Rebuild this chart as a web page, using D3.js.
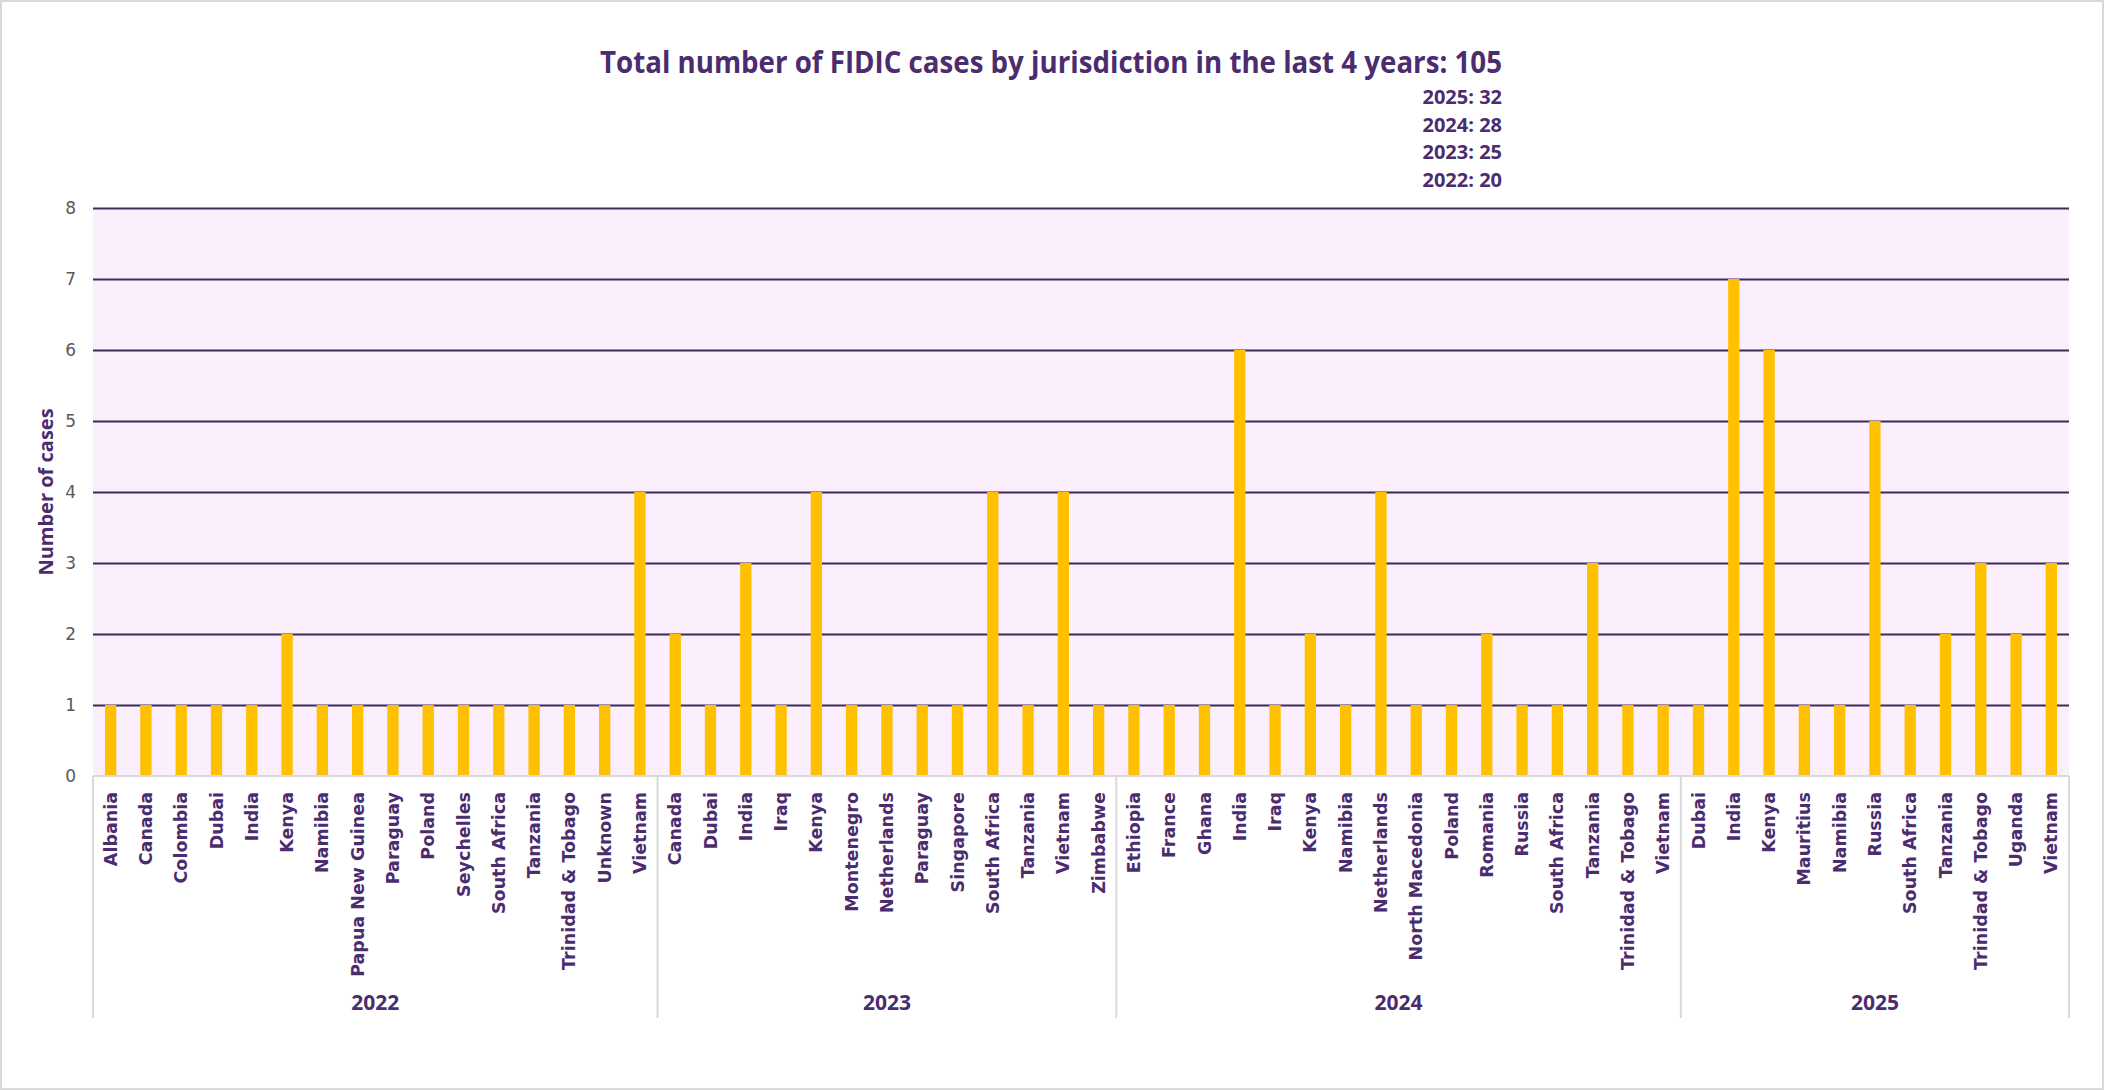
<!DOCTYPE html>
<html>
<head>
  <title>FIDIC cases by jurisdiction</title>
  <script src="https://d3js.org/d3.v7.min.js"></script>
  <style>
    body { margin: 0; background: #fff; }
  </style>
</head>
<body>
  <div id="chart"></div>

  <script>
    // Data
    const years = ['2022', '2023', '2024', '2025'];

    const countries2022 = ['Albania', 'Canada', 'Colombia', 'Dubai', 'India', 'Kenya', 'Namibia',
      'Papua New Guinea', 'Paraguay', 'Poland', 'Seychelles', 'South Africa', 'Tanzania',
      'Trinidad & Tobago', 'Unknown', 'Vietnam'];
    const cases2022 = [1, 1, 1, 1, 1, 2, 1, 1, 1, 1, 1, 1, 1, 1, 1, 4];

    const countries2023 = ['Canada', 'Dubai', 'India', 'Iraq', 'Kenya', 'Montenegro', 'Netherlands',
      'Paraguay', 'Singapore', 'South Africa', 'Tanzania', 'Vietnam', 'Zimbabwe'];
    const cases2023 = [2, 1, 3, 1, 4, 1, 1, 1, 1, 4, 1, 4, 1];

    const countries2024 = ['Ethiopia', 'France', 'Ghana', 'India', 'Iraq', 'Kenya', 'Namibia',
      'Netherlands', 'North Macedonia', 'Poland', 'Romania', 'Russia', 'South Africa', 'Tanzania',
      'Trinidad & Tobago', 'Vietnam'];
    const cases2024 = [1, 1, 1, 6, 1, 2, 1, 4, 1, 1, 2, 1, 1, 3, 1, 1];

    const countries2025 = ['Dubai', 'India', 'Kenya', 'Mauritius', 'Namibia', 'Russia', 'South Africa',
      'Tanzania', 'Trinidad & Tobago', 'Uganda', 'Vietnam'];
    const cases2025 = [1, 7, 6, 1, 1, 5, 1, 2, 3, 2, 3];

    const yTicks = [0, 1, 2, 3, 4, 5, 6, 7, 8];

    const titleText = 'Total number of FIDIC cases by jurisdiction in the last 4 years: 105';
    const yearTotals = ['2025: 32', '2024: 28', '2023: 25', '2022: 20'];

    // Flatten into rows for the band scale
    const groups = [
      { year: years[0], names: countries2022, values: cases2022 },
      { year: years[1], names: countries2023, values: cases2023 },
      { year: years[2], names: countries2024, values: cases2024 },
      { year: years[3], names: countries2025, values: cases2025 }
    ];
    const rows = [];
    groups.forEach(g => {
      g.names.forEach((n, i) => rows.push({ key: g.year + '|' + n, name: n, year: g.year, value: g.values[i] }));
    });

    const width = 2105;
    const height = 1091;
    const margin = { top: 208, right: 36, bottom: 315, left: 93 };
    const purple = '#4b2c6f';
    const narrow = '"Open Sans", sans-serif';

    const svg = d3.select('#chart')
      .append('svg')
      .attr('width', width)
      .attr('height', height);

    // outer frame
    svg.append('rect')
      .attr('x', 1).attr('y', 1)
      .attr('width', width - 3).attr('height', height - 3)
      .attr('fill', '#fff')
      .attr('stroke', '#d9d9d9')
      .attr('stroke-width', 2);

    const x = d3.scaleBand()
      .domain(rows.map(d => d.key))
      .range([margin.left, width - margin.right])
      .paddingInner(0.68)
      .paddingOuter(0.34);

    const y = d3.scaleLinear()
      .domain([0, 8])
      .range([height - margin.bottom, margin.top]);

    // plot background
    svg.append('rect')
      .attr('x', margin.left)
      .attr('y', margin.top)
      .attr('width', width - margin.right - margin.left)
      .attr('height', height - margin.bottom - margin.top)
      .attr('fill', '#fbeefd');

    // gridlines + y tick labels
    const yAxis = svg.append('g')
      .attr('transform', `translate(${margin.left},0)`)
      .call(d3.axisLeft(y).tickValues(yTicks).tickSize(-(width - margin.right - margin.left)).tickPadding(17));
    yAxis.select('.domain').remove();
    yAxis.selectAll('.tick line')
      .attr('stroke', d => d === 0 ? 'none' : '#3f2a5a')
      .attr('stroke-width', 2);
    yAxis.selectAll('.tick text')
      .attr('fill', '#595959')
      .style('font-family', '"DejaVu Sans", sans-serif')
      .style('font-size', '17px');

    // bars
    svg.selectAll('.bar')
      .data(rows)
      .enter().append('rect')
      .attr('class', 'bar')
      .attr('x', d => x(d.key))
      .attr('y', d => y(d.value))
      .attr('width', x.bandwidth())
      .attr('height', d => y(0) - y(d.value))
      .attr('fill', '#ffc000');

    // x axis baseline
    svg.append('line')
      .attr('x1', margin.left).attr('x2', width - margin.right)
      .attr('y1', y(0)).attr('y2', y(0))
      .attr('stroke', '#d9d9d9')
      .attr('stroke-width', 2);

    // category labels
    const xAxis = svg.append('g')
      .attr('transform', `translate(0,${y(0)})`)
      .call(d3.axisBottom(x).tickSize(0).tickFormat(k => k.split('|')[1]));
    xAxis.select('.domain').remove();
    xAxis.selectAll('.tick text')
      .attr('transform', 'rotate(-90)')
      .attr('x', -16)
      .attr('y', 0)
      .attr('dy', '0.35em')
      .attr('text-anchor', 'end')
      .attr('fill', purple)
      .style('font-family', '"DejaVu Sans", Verdana, sans-serif')
      .style('font-weight', 'bold')
      .style('font-size', '17.5px');

    // year group dividers + labels
    const step = x.step();
    const groupBounds = groups.map(g => {
      const first = x(g.year + '|' + g.names[0]) - (step - x.bandwidth()) / 2;
      const last = x(g.year + '|' + g.names[g.names.length - 1]) + x.bandwidth() + (step - x.bandwidth()) / 2;
      return { year: g.year, x0: first, x1: last };
    });
    groupBounds[0].x0 = margin.left;
    groupBounds[groupBounds.length - 1].x1 = width - margin.right;

    const edges = [groupBounds[0].x0].concat(groupBounds.map(b => b.x1));
    svg.selectAll('.divider')
      .data(edges)
      .enter().append('line')
      .attr('class', 'divider')
      .attr('x1', d => d).attr('x2', d => d)
      .attr('y1', y(0)).attr('y2', 1018)
      .attr('stroke', '#d9d9d9')
      .attr('stroke-width', 2);

    svg.selectAll('.year-label')
      .data(groupBounds)
      .enter().append('text')
      .attr('class', 'year-label')
      .attr('x', d => (d.x0 + d.x1) / 2)
      .attr('y', 1010)
      .attr('text-anchor', 'middle')
      .attr('fill', purple)
      .style('font-family', narrow)
      .style('font-weight', 'bold')
      .style('font-size', '21px')
      .text(d => d.year);

    // y axis title
    svg.append('text')
      .attr('transform', `translate(53,${(y(0) + y(8)) / 2}) rotate(-90)`)
      .attr('text-anchor', 'middle')
      .attr('fill', purple)
      .style('font-family', narrow)
      .style('font-weight', 'bold')
      .style('font-size', '20px')
      .text('Number of cases');

    // title and yearly totals
    svg.append('text')
      .attr('x', 1502)
      .attr('y', 73)
      .attr('text-anchor', 'end')
      .attr('fill', purple)
      .attr('textLength', 902)
      .attr('lengthAdjust', 'spacingAndGlyphs')
      .style('font-family', narrow)
      .style('font-weight', 'bold')
      .style('font-size', '31px')
      .text(titleText);

    svg.selectAll('.total')
      .data(yearTotals)
      .enter().append('text')
      .attr('class', 'total')
      .attr('x', 1502)
      .attr('y', (d, i) => 104 + i * 27.5)
      .attr('text-anchor', 'end')
      .attr('fill', purple)
      .style('font-family', narrow)
      .style('font-weight', 'bold')
      .style('font-size', '20px')
      .text(d => d);
  </script>
</body>
</html>
